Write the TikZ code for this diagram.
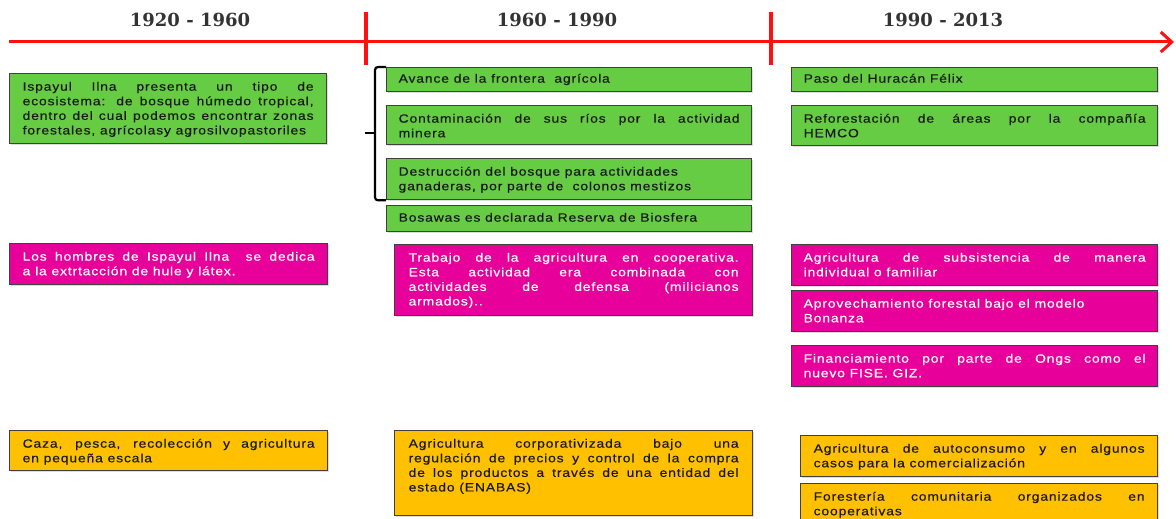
\documentclass[tikz,border=0pt]{standalone}
\usepackage{fontspec}
\usetikzlibrary{arrows.meta,shadows}
\newfontfamily\boxfont[FakeStretch=1.16,LetterSpace=7,FakeBold=0.4]{Liberation Sans}
\newfontfamily\titlefont{DejaVu Serif}
\definecolor{tlred}{HTML}{FF1010}
\definecolor{bgreen}{HTML}{66CC44}
\definecolor{bpink}{HTML}{E8009A}
\definecolor{borange}{HTML}{FFC000}
\definecolor{bborder}{HTML}{404040}
\definecolor{btext}{HTML}{1A1A1A}
\definecolor{ttext}{HTML}{333333}
\newcommand\J[1]{\makebox[\linewidth][s]{#1}}
% name, style, x, y, width, height, pad, first-baseline, lines
\newcommand\tbox[9]{%
  \node[#2, anchor=north west, inner xsep=#7pt, inner ysep=0pt] (#1) at (#3,-#4)
    {\parbox[c][#6pt][t]{\dimexpr#5pt-#7pt-#7pt\relax}{\boxfont\fontsize{12}{14.6}\selectfont
      \rule{0pt}{#8pt}#9}};}
\begin{document}
\begin{tikzpicture}[x=1pt,y=1pt,
  tbase/.style={draw=bborder, line width=1.3pt, drop shadow={shadow xshift=1.5pt, shadow yshift=-1.5pt, fill=black!22, opacity=0.6}},
  gbox/.style={tbase, fill=bgreen, text=btext},
  pbox/.style={tbase, fill=bpink, text=white},
  obox/.style={tbase, fill=borange, text=btext},
  period/.style={font=\titlefont\bfseries\fontsize{18}{20}\selectfont, text=ttext, inner sep=0pt},
  tline/.style={draw=tlred, line width=3pt},
  tick/.style={draw=tlred, line width=3.5pt},
  bracepath/.style={draw=black, line width=2.2pt, rounded corners=3pt}]
\useasboundingbox (0,0) rectangle (1176,-519);

% timeline
\coordinate (tstart) at (9,-42);
\coordinate (tend) at (1174,-42);
\draw[tline, -{Straight Barb[length=11pt,width=20pt,line width=3pt]}] (tstart) -- (tend);
\coordinate (t1a) at (366,-12); \coordinate (t1b) at (366,-65);
\coordinate (t2a) at (771,-12); \coordinate (t2b) at (771,-65);
\draw[tick] (t1a) -- (t1b);
\draw[tick] (t2a) -- (t2b);

\node[period] (p1) at (190,-20) {1920 - 1960};
\node[period] (p2) at (557,-20) {1960 - 1990};
\node[period] (p3) at (943,-20) {1990 - 2013};

% column 1
\tbox{g1}{gbox}{9}{73}{317}{70}{13}{17}{\J{Ispayul Ilna presenta un tipo de}\\\J{ecosistema: de bosque húmedo tropical,}\\\J{dentro del cual podemos encontrar zonas}\\forestales, agrícolasy agrosilvopastoriles}
\tbox{p1b}{pbox}{9}{243}{318}{41}{13}{17}{\J{Los hombres de Ispayul Ilna\ \ se dedica}\\a la extrtacción de hule y látex.}
\tbox{o1}{obox}{9}{430}{318}{40}{13}{17}{\J{Caza, pesca, recolección y agricultura}\\en pequeña escala}

% column 2
\tbox{gA}{gbox}{386}{67}{365}{24}{12}{15}{Avance de la frontera\ \ agrícola}
\tbox{gB}{gbox}{386}{105}{365}{39}{12}{17}{\J{Contaminación de sus ríos por la actividad}\\minera}
\tbox{gC}{gbox}{386}{158}{365}{41}{12}{17}{Destrucción del bosque para actividades\\ganaderas, por parte de\ \ colonos mestizos}
\tbox{gD}{gbox}{386}{205}{365}{26}{12}{16}{Bosawas es declarada Reserva de Biosfera}
\tbox{p2b}{pbox}{394}{244}{358}{71}{14}{17}{\J{Trabajo de la agricultura en cooperativa.}\\\J{Esta actividad era combinada con}\\\J{actividades de defensa (milicianos}\\armados)..}
\tbox{o2}{obox}{394}{430}{358}{85}{14}{17}{\J{Agricultura corporativizada bajo una}\\\J{regulación de precios y control de la compra}\\\J{de los productos a través de una entidad del}\\estado (ENABAS)}

% brace
\coordinate (bmid) at (375,-133);
\coordinate (btip) at (365,-133);
\draw[bracepath] (gA.north west) -- ++(-11,0) |- (gC.south west);
\draw[draw=black, line width=2.2pt] (bmid) -- (btip);

% column 3
\tbox{gE}{gbox}{791}{67}{366}{24}{12}{15}{Paso del Huracán Félix}
\tbox{gF}{gbox}{791}{105}{366}{40}{12}{17}{\J{Reforestación de áreas por la compañía}\\HEMCO}
\tbox{p3b}{pbox}{791}{244}{366}{41}{12}{17}{\J{Agricultura de subsistencia de manera}\\individual o familiar}
\tbox{p4b}{pbox}{791}{290}{366}{41}{12}{17}{Aprovechamiento forestal bajo el modelo\\Bonanza}
\tbox{p5b}{pbox}{791}{345}{366}{41}{12}{17}{\J{Financiamiento por parte de Ongs como el}\\nuevo FISE. GIZ.}
\tbox{o3}{obox}{800}{435}{357}{41}{13}{17}{\J{Agricultura de autoconsumo y en algunos}\\casos para la comercialización}
\tbox{o4}{obox}{800}{483}{357}{44}{13}{17}{\J{Forestería comunitaria organizados en}\\cooperativas}
\end{tikzpicture}
\end{document}
